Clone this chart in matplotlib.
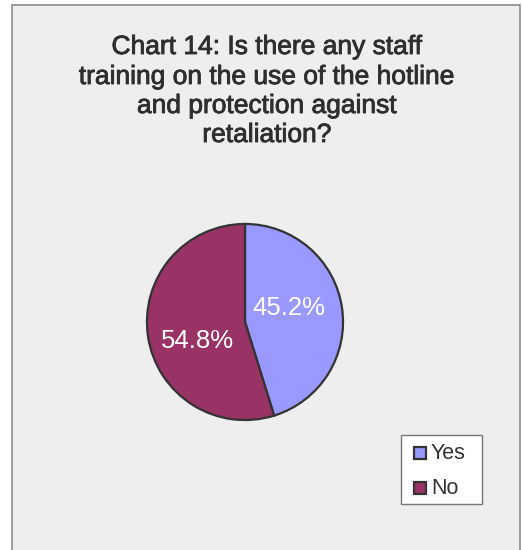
import matplotlib.pyplot as plt
import matplotlib.patheffects as pe
from matplotlib.patches import Rectangle

labels = ["Yes", "No"]
values = [45.2, 54.8]
colors = ["#9999FF", "#993366"]
title_lines = [
    "Chart 14: Is there any staff",
    "training on the use of the hotline",
    "and protection against",
    "retaliation?",
]

plt.rcParams["font.family"] = ["Liberation Sans", "DejaVu Sans"]

W, H = 522, 550
fig = plt.figure(figsize=(W / 100, H / 100), dpi=100, facecolor="white")


def box(x0, y0, x1, y1, **kw):
    """Rectangle given in pixel corners (top-left origin)."""
    return Rectangle((x0 / W, 1 - y1 / H), (x1 - x0) / W, (y1 - y0) / H,
                     transform=fig.transFigure, **kw)


# grey chart area with a thin border (kept behind the pie axes)
fig.patches.append(box(12, 5, 520, 580, facecolor="#EEEEEE",
                       edgecolor="#8C8C8C", linewidth=1.2, zorder=-1))

# title, one line at a time
heavy = [pe.withStroke(linewidth=0.6, foreground="#2E2E2E")]
title_y = [47, 77, 106, 135]
for line, y in zip(title_lines, title_y):
    fig.text(267 / W, 1 - y / H, line, ha="center", va="center",
             fontsize=19, color="#2E2E2E", path_effects=heavy)

cx, cy, r = 245, 322, 100
ax = fig.add_axes([(cx - r) / W, 1 - (cy + r) / H, 2 * r / W, 2 * r / H])
ax.patch.set_alpha(0)
wedges, _, autotexts = ax.pie(
    values, colors=colors, startangle=90, counterclock=False,
    autopct="%.1f%%", pctdistance=0.5,
    wedgeprops=dict(edgecolor="#333333", linewidth=1.6),
    textprops=dict(color="white", fontsize=18.5, ha="center", va="center"),
)
for t, pos in zip(autotexts, [(0.45, 0.14), (-0.48, -0.19)]):
    t.set_position(pos)
ax.set_xlim(-1.02, 1.02)
ax.set_ylim(-1.02, 1.02)
ax.set_aspect("auto")
ax.axis("off")

# legend box drawn by hand
fig.patches.append(box(401, 435, 482, 504, facecolor="white",
                       edgecolor="#777777", linewidth=1.0, zorder=2))
for i, (lab, c) in enumerate(zip(labels, colors)):
    yc = 452.5 + 35 * i
    fig.patches.append(box(414, yc - 6, 426, yc + 6, facecolor=c,
                           edgecolor="#333333", linewidth=1.6, zorder=3))
    fig.text(431 / W, 1 - (yc + 1) / H, lab, ha="left", va="center",
             fontsize=15.5, color="#333333", zorder=3)

fig.savefig("out.png", dpi=100, facecolor="white")
